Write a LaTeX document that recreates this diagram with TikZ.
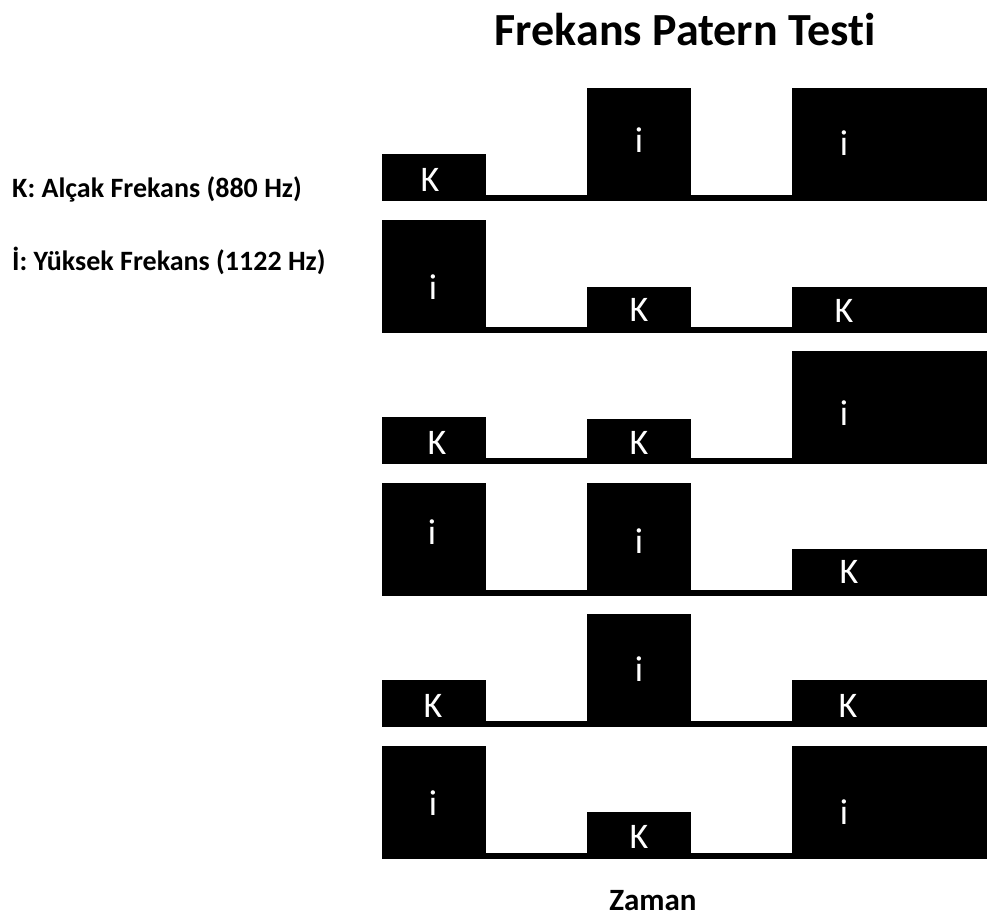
\documentclass[tikz,border=0pt]{standalone}
\usepackage{fontspec}
\setmainfont[Ligatures=NoCommon]{Carlito}
\begin{document}
\begin{tikzpicture}[x=1pt,y=-1pt,
  tone/.style={text=white,inner sep=0pt,font=\fontsize{36}{40}\selectfont},
  legend/.style={anchor=west,inner sep=0pt,font=\fontsize{28}{32}\selectfont\bfseries},
  heading/.style={inner sep=0pt,font=\fontsize{46}{52}\selectfont\bfseries}]
\useasboundingbox (0,0) rectangle (987,920);

% heading and legend
\node[heading] (title) at (685,30) {Frekans Patern Testi};
\node[legend] (lowf) at (12,189) {K: Alçak Frekans (880 Hz)};
\node[legend] (highf) at (12,261) {İ: Yüksek Frekans (1122 Hz)};

% rows: bottom edge of the time line; tall pulse = 113, short pulse = 47
% columns: 382-486, 587-691, 792-987
\foreach \yb/\a/\b/\c in {201/47/113/113, 332.6/113/46/46, 464.2/47/45/113,
    595.8/113/113/47, 727.4/47/113/47, 859/113/47/113}{
  \fill (382,\yb-6) rectangle (987,\yb);
  \fill (382,\yb-\a) rectangle (486,\yb);
  \fill (587,\yb-\b) rectangle (691,\yb);
  \fill (792,\yb-\c) rectangle (987,\yb);
}

% tone labels
\node[tone] (r1a) at (430,180) {K};
\node[tone] (r1b) at (639,140) {i};
\node[tone] (r1c) at (844,143) {i};
\node[tone] (r2a) at (433,287) {i};
\node[tone] (r2b) at (639,310) {K};
\node[tone] (r2c) at (844,311) {K};
\node[tone] (r3a) at (437,443) {K};
\node[tone] (r3b) at (639,443) {K};
\node[tone] (r3c) at (844,413) {i};
\node[tone] (r4a) at (432,532) {i};
\node[tone] (r4b) at (639,541) {i};
\node[tone] (r4c) at (849,572) {K};
\node[tone] (r5a) at (433,706) {K};
\node[tone] (r5b) at (639,669) {i};
\node[tone] (r5c) at (848,706) {K};
\node[tone] (r6a) at (433,803) {i};
\node[tone] (r6b) at (639,837) {K};
\node[tone] (r6c) at (844,812) {i};

% time axis label
\node[inner sep=0pt,font=\fontsize{31}{34}\selectfont\bfseries] (time) at (653,901) {Zaman};
\end{tikzpicture}
\end{document}
